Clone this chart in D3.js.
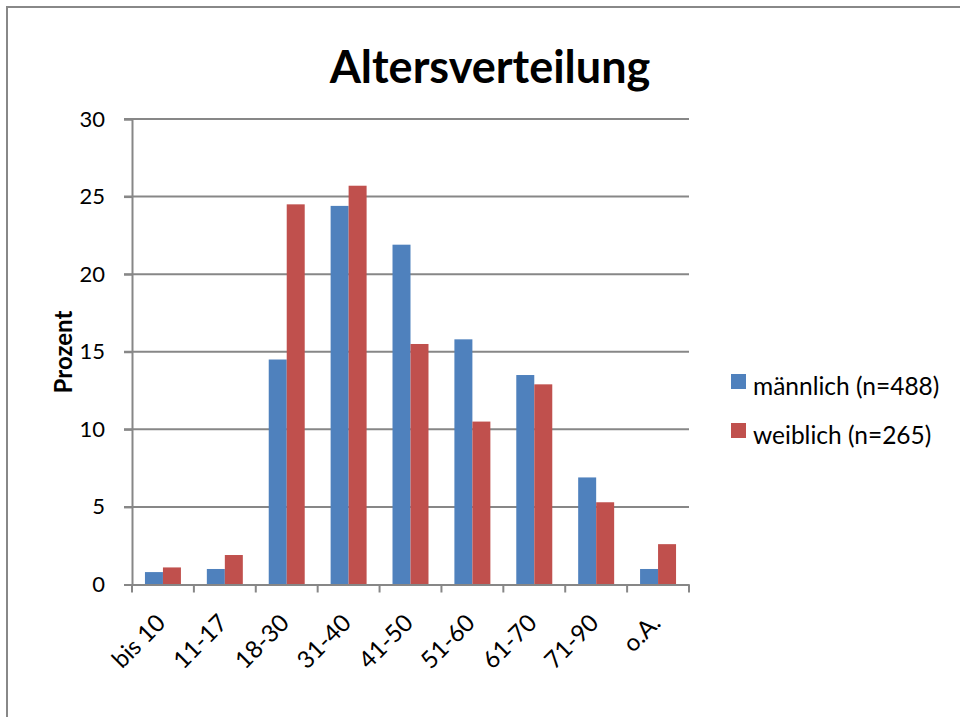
<!DOCTYPE html>
<html>
<head>
<meta charset="utf-8">
<script src="https://d3js.org/d3.v7.min.js"></script>
<style>
  body { margin: 0; background: #fff; }
  text { font-family: Lato, "Open Sans", sans-serif; fill: #000; }
</style>
</head>
<body>
<div id="chart"></div>
<script>
// data
var categories = ["bis 10", "11-17", "18-30", "31-40", "41-50", "51-60", "61-70", "71-90", "o.A."];
var maennlich = [0.8, 1.0, 14.5, 24.4, 21.9, 15.8, 13.5, 6.9, 1.0];
var weiblich  = [1.1, 1.9, 24.5, 25.7, 15.5, 10.5, 12.9, 5.3, 2.6];
var seriesNames = ["männlich (n=488)", "weiblich (n=265)"];
var colors = ["#4F81BD", "#C0504D"];
var yTicks = [0, 5, 10, 15, 20, 25, 30];

var width = 960, height = 717;
var margin = {top: 119, left: 132, right: 271};
var axisColor = "#878787";

var svg = d3.select("#chart").append("svg")
  .attr("width", width).attr("height", height);

// outer frame (cut off at right and bottom)
svg.append("path")
  .attr("d", "M7,719 L7,7 L962,7")
  .attr("fill", "none").attr("stroke", "#888").attr("stroke-width", 2);

var x = d3.scaleBand().domain(categories)
  .range([margin.left, width - margin.right]);
var x1 = d3.scaleBand().domain([0, 1])
  .range([0, x.bandwidth()]).paddingOuter(0.72).paddingInner(0);
var y = d3.scaleLinear().domain([0, 30]).range([584.5, margin.top]);

// grid
svg.append("g").selectAll("line").data(yTicks.slice(1)).enter().append("line")
  .attr("x1", margin.left - 8).attr("x2", x.range()[1])
  .attr("y1", function(d) { return y(d); }).attr("y2", function(d) { return y(d); })
  .attr("stroke", axisColor).attr("stroke-width", 2);

// bars
var rows = categories.map(function(c, i) { return {cat: c, vals: [maennlich[i], weiblich[i]]}; });
var grp = svg.append("g").selectAll("g").data(rows).enter().append("g")
  .attr("transform", function(d) { return "translate(" + x(d.cat) + ",0)"; });
grp.selectAll("rect").data(function(d) { return d.vals; }).enter().append("rect")
  .attr("x", function(d, i) { return x1(i); })
  .attr("width", x1.bandwidth())
  .attr("y", function(d) { return y(d); })
  .attr("height", function(d) { return y(0) - y(d); })
  .attr("fill", function(d, i) { return colors[i]; });

// y axis
var yAxis = d3.axisLeft(y).tickValues(yTicks).tickSize(8).tickPadding(19);
var gy = svg.append("g").attr("transform", "translate(" + margin.left + ",0)").call(yAxis);
gy.select(".domain").attr("stroke", axisColor).attr("stroke-width", 2);
gy.selectAll(".tick line").attr("stroke", axisColor).attr("stroke-width", 2);
gy.selectAll(".tick text").attr("font-size", 22).attr("font-family", "Lato");

// x axis
var xAxis = d3.axisBottom(x).tickSize(0);
var gx = svg.append("g").attr("transform", "translate(0," + y(0) + ")").call(xAxis);
gx.select(".domain").attr("stroke", axisColor).attr("stroke-width", 2);
gx.selectAll(".tick text")
  .attr("font-size", 24).attr("font-family", "Lato")
  .style("text-anchor", "end")
  .attr("x", 0).attr("y", 0).attr("dy", 0)
  .attr("transform", "translate(4,40) rotate(-45)");
// category separator ticks
svg.append("g").selectAll("line").data(d3.range(categories.length + 1)).enter().append("line")
  .attr("x1", function(i) { return margin.left + i * x.step(); })
  .attr("x2", function(i) { return margin.left + i * x.step(); })
  .attr("y1", y(0)).attr("y2", y(0) + 8)
  .attr("stroke", axisColor).attr("stroke-width", 2);

// axis title
svg.append("text")
  .attr("transform", "translate(72,352) rotate(-90)")
  .attr("text-anchor", "middle")
  .attr("font-size", 24).attr("font-weight", "bold")
  .text("Prozent");

// title
svg.append("text")
  .attr("x", 490).attr("y", 83)
  .attr("text-anchor", "middle")
  .attr("font-size", 45).attr("font-weight", "bold")
  .text("Altersverteilung");

// legend
var leg = svg.append("g").attr("transform", "translate(731,374)");
var li = leg.selectAll("g").data(seriesNames).enter().append("g")
  .attr("transform", function(d, i) { return "translate(0," + i * 49 + ")"; });
li.append("rect").attr("width", 15).attr("height", 15)
  .attr("fill", function(d, i) { return colors[i]; });
li.append("text").attr("x", 22).attr("y", 21)
  .attr("font-size", 24.5)
  .text(function(d) { return d; });
</script>
</body>
</html>
